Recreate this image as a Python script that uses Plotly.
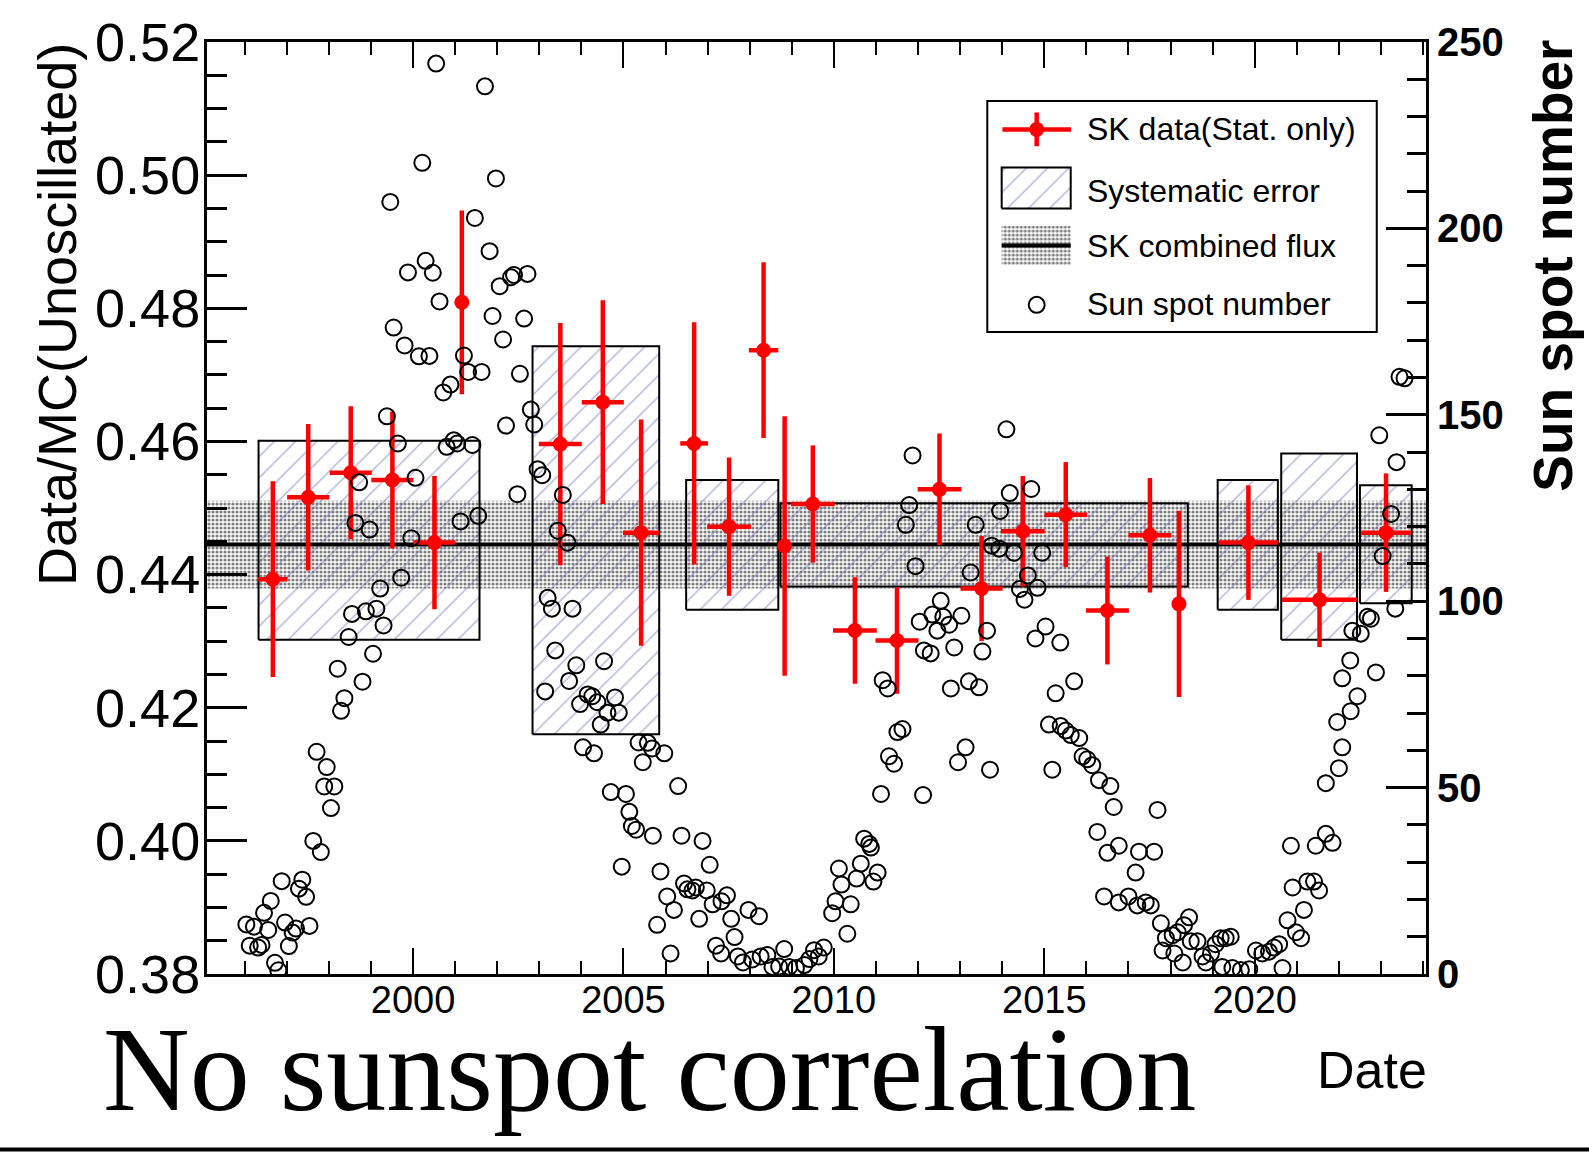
import plotly.graph_objects as go

# ---------------- data ----------------
# SK data (yearly bins), Data/MC(Unoscillated), statistical error, bin half width (years)
sk_year = [1996.67, 1997.51, 1998.52, 1999.51, 2000.51, 2001.16, 2003.50, 2004.51,
           2005.42, 2006.68, 2007.51, 2008.33, 2008.83, 2009.50, 2010.50, 2011.50,
           2012.51, 2013.51, 2014.49, 2015.51, 2016.50, 2017.51, 2018.20, 2019.85,
           2021.54, 2023.12]
sk_ratio = [0.4393, 0.4516, 0.4553, 0.4542, 0.4448, 0.4809, 0.4596, 0.4659,
            0.4463, 0.4597, 0.4472, 0.4737, 0.4443, 0.4506, 0.4316, 0.4301,
            0.4528, 0.4379, 0.4465, 0.4490, 0.4346, 0.4459, 0.4356, 0.4448,
            0.4362, 0.4463]
sk_stat = [0.0147, 0.0110, 0.0100, 0.0103, 0.0100, 0.0138, 0.0182, 0.0153,
           0.0170, 0.0182, 0.0104, 0.0132, 0.0195, 0.0088, 0.0080, 0.0080,
           0.0084, 0.0079, 0.0083, 0.0079, 0.0081, 0.0086, 0.0140, 0.0086,
           0.0071, 0.0089]
sk_halfwidth = [0.35, 0.50, 0.50, 0.50, 0.50, 0.0, 0.51, 0.50,
                0.43, 0.33, 0.52, 0.35, 0.0, 0.52, 0.52, 0.51,
                0.52, 0.50, 0.52, 0.51, 0.51, 0.51, 0.0, 0.71,
                0.89, 0.59]

# Systematic error boxes per SK phase
sys_start = [1996.33, 2002.84, 2006.49, 2008.73, 2019.12, 2020.63, 2022.50]
sys_end = [2001.58, 2005.85, 2008.68, 2018.41, 2020.55, 2022.43, 2023.73]
sys_low = [0.4302, 0.4160, 0.4347, 0.4382, 0.4347, 0.4302, 0.4357]
sys_high = [0.4601, 0.4743, 0.4542, 0.4507, 0.4542, 0.4582, 0.4534]

# SK combined flux
combined_value = 0.4445
combined_err = 0.0066

# Sun spot number (monthly)
ss_year = [
    1996.04, 1996.12, 1996.22, 1996.32, 1996.40, 1996.46, 1996.56, 1996.62, 1996.72, 1996.80,
    1996.88, 1996.96, 1997.05, 1997.14, 1997.22, 1997.29, 1997.37, 1997.46, 1997.54, 1997.63,
    1997.71, 1997.81, 1997.89, 1997.95, 1998.05, 1998.13, 1998.21, 1998.29, 1998.37, 1998.47,
    1998.55, 1998.63, 1998.72, 1998.80, 1998.88, 1998.97, 1999.05, 1999.13, 1999.22, 1999.30,
    1999.38, 1999.46, 1999.54, 1999.64, 1999.72, 1999.80, 1999.88, 1999.96, 2000.06, 2000.14,
    2000.22, 2000.30, 2000.39, 2000.47, 2000.55, 2000.63, 2000.72, 2000.80, 2000.89, 2000.97,
    2001.05, 2001.13, 2001.21, 2001.31, 2001.41, 2001.47, 2001.55, 2001.63, 2001.71, 2001.82,
    2001.89, 2001.97, 2002.06, 2002.14, 2002.21, 2002.33,
    2002.40, 2002.48, 2002.54, 2002.64, 2002.72, 2002.80, 2002.88, 2002.96, 2003.07, 2003.14,
    2003.20, 2003.30, 2003.38, 2003.44, 2003.56, 2003.67, 2003.71, 2003.79, 2003.88, 2003.97,
    2004.04, 2004.15, 2004.26, 2004.30, 2004.38, 2004.46, 2004.54, 2004.62, 2004.70, 2004.80,
    2004.89, 2004.96, 2005.06, 2005.14, 2005.20, 2005.30, 2005.36, 2005.46, 2005.58, 2005.68,
    2005.70, 2005.80, 2005.88, 2005.97, 2006.04, 2006.12, 2006.20, 2006.30, 2006.38, 2006.44,
    2006.52, 2006.64, 2006.72, 2006.80, 2006.88, 2006.98, 2007.05, 2007.12, 2007.20, 2007.32,
    2007.33, 2007.46, 2007.56, 2007.64, 2007.72, 2007.84, 2007.97, 2008.06, 2008.22, 2008.26,
    2008.42, 2008.54, 2008.70, 2008.82, 2008.94, 2009.10, 2009.30, 2009.42, 2009.53,
    2009.64, 2009.76, 2009.96, 2010.04, 2010.12, 2010.18, 2010.32, 2010.40, 2010.54, 2010.64,
    2010.72, 2010.84, 2010.88, 2010.94, 2011.04, 2011.12, 2011.16, 2011.28, 2011.31, 2011.43,
    2011.51, 2011.63, 2011.71, 2011.79, 2011.87, 2011.94, 2012.04, 2012.12, 2012.14, 2012.30,
    2012.34, 2012.46, 2012.54, 2012.60, 2012.74, 2012.78, 2012.86, 2012.95, 2013.03, 2013.13,
    2013.21, 2013.25, 2013.37, 2013.45, 2013.53, 2013.64, 2013.71, 2013.75, 2013.93, 2013.95,
    2014.10, 2014.18, 2014.28, 2014.42, 2014.53, 2014.61, 2014.69, 2014.79, 2014.84, 2014.95,
    2015.03, 2015.11, 2015.19, 2015.27, 2015.38, 2015.39, 2015.51, 2015.63, 2015.71, 2015.83,
    2015.91, 2016.02, 2016.14, 2016.26, 2016.30, 2016.42, 2016.50, 2016.57, 2016.65, 2016.77,
    2016.77,
    2017.00, 2017.17, 2017.21, 2017.25, 2017.41, 2017.53, 2017.61, 2017.69, 2017.77, 2017.81,
    2017.89, 2018.05, 2018.09, 2018.17, 2018.29, 2018.32, 2018.44, 2018.48, 2018.64, 2018.76,
    2018.84, 2018.96, 2019.07, 2019.19, 2019.23, 2019.31, 2019.43, 2019.47, 2019.67, 2019.87,
    2020.03, 2020.18, 2020.34, 2020.46, 2020.58, 2020.66, 2020.78, 2020.86, 2020.90, 2020.98,
    2021.10, 2021.17, 2021.25, 2021.41, 2021.45, 2021.53, 2021.69, 2021.69, 2021.85, 2021.96,
    2022.00, 2022.08, 2022.08, 2022.27, 2022.28, 2022.32, 2022.44, 2022.52, 2022.68, 2022.76,
    2022.88, 2022.96, 2023.04, 2023.24, 2023.34, 2023.37, 2023.44, 2023.56,
]
ss_number = [
    13.3, 7.6, 12.7, 7.1, 7.8, 16.4, 11.8, 19.6, 3.0, 1.0,
    24.9, 13.8, 7.5, 11.1, 12.2, 22.9, 25.3, 20.7, 12.9, 35.7,
    59.6, 32.7, 50.3, 55.5, 44.5, 50.3, 81.9, 70.6, 74.0, 90.4,
    96.6, 121.0, 131.9, 78.4, 97.3, 119.2, 85.9, 98.0, 103.4, 93.5,
    149.6, 207.1, 173.4, 142.3, 106.3, 168.6, 188.2, 116.9, 133.1, 165.7,
    217.6, 191.3, 165.8, 188.1, 244.2, 180.4, 156.0, 141.4, 158.1, 143.2,
    142.3, 121.4, 165.9, 161.5, 141.9, 202.8, 122.9, 161.5, 238.1, 193.9,
    176.5, 213.4, 184.5, 170.2, 147.1, 186.9,
    187.5, 128.7, 161.0, 175.8, 187.8, 151.4, 147.4, 135.4, 133.8, 75.8,
    100.9, 98.0, 86.8, 118.9, 128.5, 115.7, 78.6, 98.0, 82.8, 72.4,
    60.8, 75.0, 74.5, 59.2, 72.9, 66.9, 83.9, 70.1, 48.8, 74.2,
    70.1, 28.8, 48.3, 43.5, 39.7, 38.7, 62.1, 56.8, 62.0, 60.5,
    37.1, 13.2, 27.5, 59.2, 20.8, 5.5, 17.2, 50.4, 37.1, 24.3,
    22.7, 22.4, 23.2, 14.8, 35.7, 22.4, 29.3, 18.7, 7.6, 5.5,
    19.5, 21.1, 14.8, 9.9, 4.7, 3.1, 17.2, 3.9, 15.5, 4.7,
    5.1, 1.9, 2.0, 6.7, 1.9, 1.6, 2.4, 4.0, 6.4,
    4.7, 7.1, 16.3, 19.5, 28.3, 24.0, 10.8, 18.7, 25.6, 29.6,
    36.3, 34.9, 33.9, 24.8, 27.2, 48.3, 78.8, 76.6, 58.4, 56.4,
    64.9, 65.7, 120.5, 125.8, 139.1, 109.4, 94.5, 48.0, 86.8, 86.0,
    96.4, 92.1, 100.1, 95.8, 93.7, 76.6, 87.6, 56.8, 96.1, 60.8,
    78.5, 107.7, 120.5, 76.9, 86.5, 92.1, 54.8, 114.9, 114.1, 124.2,
    146.1, 129.0, 113.0, 103.3, 100.4, 106.9, 130.1, 90.0, 103.6, 113.0,
    93.2, 66.9, 54.8, 75.3, 88.9, 66.5, 65.3, 64.1, 78.5, 63.3,
    58.4, 57.6, 56.0, 38.1, 52.0, 20.8, 32.5, 50.4, 44.8, 34.4,
    19.2,
    20.8, 27.2, 18.4, 32.8, 19.2, 18.4, 32.8, 44.0, 13.6, 6.3,
    9.6, 10.4, 5.5, 11.2, 3.1, 13.1, 15.2, 8.8, 8.8, 4.7,
    3.1, 5.5, 8.0, 9.6, 1.9, 9.6, 10.0, 1.6, 1.1, 1.3,
    6.3, 5.5, 6.0, 7.1, 8.0, 1.6, 14.4, 34.4, 23.2, 11.2,
    9.6, 17.2, 24.8, 24.8, 34.4, 22.4, 37.6, 51.2, 35.2, 67.6,
    55.2, 60.8, 79.3, 84.1, 70.5, 92.1, 74.5, 91.3, 95.8, 95.3,
    80.9, 144.5, 112.1, 123.4, 98.0, 137.3, 160.2, 159.8,
]

# axis settings
x_range = [1995.105, 2024.07]
y_range = [0.38, 0.52]
ss_range = [0, 250]

legend_labels = ["SK data(Stat. only)", "Systematic error", "SK combined flux", "Sun spot number"]

SANS = "Liberation Sans, Arial, Helvetica, sans-serif"
SERIF = "Liberation Serif, Times New Roman, serif"
HATCH = dict(shape="/", fgcolor="#6a6ab4", size=15, solidity=0.1)
DOTS = dict(shape=".", fgcolor="black", size=4, solidity=0.5)

fig = go.Figure()

# combined flux band + line
fig.add_trace(go.Scatter(
    x=[x_range[0], x_range[1], x_range[1], x_range[0], x_range[0]],
    y=[combined_value - combined_err] * 2 + [combined_value + combined_err] * 2 + [combined_value - combined_err],
    mode="lines", line=dict(width=0), fill="toself", fillcolor="rgba(0,0,0,0)",
    fillpattern=DOTS, hoverinfo="skip", showlegend=False))

# systematic boxes
for xs, xe, lo, hi in zip(sys_start, sys_end, sys_low, sys_high):
    fig.add_trace(go.Scatter(
        x=[xs, xe, xe, xs, xs], y=[lo, lo, hi, hi, lo],
        mode="lines", line=dict(color="black", width=2),
        fill="toself", fillcolor="rgba(0,0,0,0)", fillpattern=HATCH,
        hoverinfo="skip", showlegend=False))

fig.add_trace(go.Scatter(
    x=x_range, y=[combined_value, combined_value], mode="lines",
    line=dict(color="black", width=4), showlegend=False))

# SK data
fig.add_trace(go.Scatter(
    x=sk_year, y=sk_ratio, mode="markers",
    marker=dict(color="#ff0000", size=15),
    error_y=dict(type="data", array=sk_stat, color="#ff0000", thickness=4.5, width=0),
    error_x=dict(type="data", array=sk_halfwidth, color="#ff0000", thickness=4.5, width=0),
    showlegend=False))

# Sun spot number on right axis
fig.add_trace(go.Scatter(
    x=ss_year, y=ss_number, mode="markers", xaxis="x", yaxis="y2",
    marker=dict(symbol="circle-open", size=16, color="black", line=dict(width=2, color="black")),
    showlegend=False))

# ------- legend (drawn in its own small axes, local pixel units) -------
LW, LH = 389.4, 231.7
fig.add_trace(go.Scatter(
    x=[49.4], y=[203.3], mode="markers", xaxis="x3", yaxis="y3",
    marker=dict(color="#ff0000", size=15),
    error_x=dict(type="data", array=[34.3], color="#ff0000", thickness=4.5, width=0),
    error_y=dict(type="data", array=[17], color="#ff0000", thickness=4.5, width=0),
    showlegend=False))
fig.add_trace(go.Scatter(
    x=[14.4, 83.4, 83.4, 14.4, 14.4], y=[124, 124, 165, 165, 124], xaxis="x3", yaxis="y3",
    mode="lines", line=dict(color="black", width=2), fill="toself",
    fillcolor="rgba(0,0,0,0)", fillpattern=HATCH, showlegend=False))
fig.add_trace(go.Scatter(
    x=[14.4, 83.4, 83.4, 14.4, 14.4], y=[67.3, 67.3, 106.7, 106.7, 67.3], xaxis="x3", yaxis="y3",
    mode="lines", line=dict(width=0), fill="toself",
    fillcolor="rgba(0,0,0,0)", fillpattern=DOTS, showlegend=False))
fig.add_trace(go.Scatter(
    x=[14.4, 83.4], y=[86.7, 86.7], xaxis="x3", yaxis="y3", mode="lines",
    line=dict(color="black", width=4), showlegend=False))
fig.add_trace(go.Scatter(
    x=[49.4], y=[27.3], xaxis="x3", yaxis="y3", mode="markers",
    marker=dict(symbol="circle-open", size=16, color="black", line=dict(width=2, color="black")),
    showlegend=False))

annotations = []
for label, ly in zip(legend_labels, [203.3, 141.7, 86.7, 28.3]):
    annotations.append(dict(text=label, x=97.7, y=ly, xref="x3", yref="y3",
                            xanchor="left", yanchor="middle", showarrow=False,
                            font=dict(family=SANS, size=32, color="black")))

annotations += [
    dict(text="Data/MC(Unoscillated)", textangle=-90, x=-0.1232, y=0.708,
         xref="paper", yref="paper", xanchor="center", yanchor="middle", showarrow=False,
         font=dict(family=SANS, size=54, color="black")),
    dict(text="<b>Sun spot number</b>", textangle=-90, x=1.1042, y=0.760,
         xref="paper", yref="paper", xanchor="center", yanchor="middle", showarrow=False,
         font=dict(family=SANS, size=55, color="black")),
    dict(text="Date", x=1.0025, y=-0.1027, xref="paper", yref="paper",
         xanchor="right", yanchor="middle", showarrow=False,
         font=dict(family=SANS, size=52, color="black")),
    dict(text="No sunspot correlation", x=-0.087, y=-0.1030, xref="paper", yref="paper",
         xanchor="left", yanchor="middle", showarrow=False,
         font=dict(family=SERIF, size=120, color="black")),
]

shapes = [
    dict(type="rect", xref="paper", yref="paper", x0=0.6401, x1=0.9596, y0=0.6888, y1=0.9366,
         line=dict(color="black", width=2), fillcolor="rgba(0,0,0,0)", layer="above"),
    dict(type="line", xref="paper", yref="paper", x0=-0.17, x1=1.134, y0=-0.1882, y1=-0.1882,
         line=dict(color="black", width=4)),
]

axis_common = dict(showgrid=False, zeroline=False, showline=True, linecolor="black",
                   linewidth=3, ticks="inside", tickcolor="black")

fig.update_layout(
    width=1589, height=1153,
    margin=dict(l=207, r=163, t=39, b=179),
    paper_bgcolor="white", plot_bgcolor="white",
    showlegend=False,
    annotations=annotations, shapes=shapes,
    xaxis=dict(**axis_common, range=x_range, tick0=2000, dtick=5, ticklen=26, tickwidth=2,
               tickformat="d", tickfont=dict(family=SANS, size=38, color="black"),
               ticklabelstandoff=-10,
               minor=dict(dtick=1, ticklen=13, tickwidth=2, tickcolor="black", ticks="inside"),
               anchor="y"),
    xaxis2=dict(**axis_common, range=x_range, tick0=2000, dtick=5, ticklen=26, tickwidth=2,
                showticklabels=False, side="top", overlaying="x", anchor="y",
                minor=dict(dtick=1, ticklen=13, tickwidth=2, tickcolor="black", ticks="inside")),
    yaxis=dict(**axis_common, range=y_range, tick0=0.38, dtick=0.02, ticklen=40, tickwidth=3,
               tickformat=".2f", tickfont=dict(family=SANS, size=54, color="black"),
               ticklabelstandoff=-7,
               minor=dict(dtick=0.005, ticklen=20, tickwidth=3, tickcolor="black", ticks="inside")),
    yaxis2=dict(**axis_common, range=ss_range, tick0=0, dtick=50, ticklen=40, tickwidth=3,
                side="right", overlaying="y", anchor="x",
                tickfont=dict(family=SANS, size=40, color="black", weight="bold"),
                minor=dict(dtick=10, ticklen=19, tickwidth=3, tickcolor="black", ticks="inside")),
    xaxis3=dict(domain=[0.6401, 0.9596], range=[0, LW], visible=False, anchor="y3",
                fixedrange=True),
    yaxis3=dict(domain=[0.6888, 0.9366], range=[0, LH], visible=False, anchor="x3",
                fixedrange=True),
)

# dummy trace to show the top axis
fig.add_trace(go.Scatter(x=[x_range[0]], y=[y_range[0]], xaxis="x2", yaxis="y",
                         mode="markers", marker=dict(opacity=0), showlegend=False,
                         hoverinfo="skip"))

fig.write_html("out.html")
